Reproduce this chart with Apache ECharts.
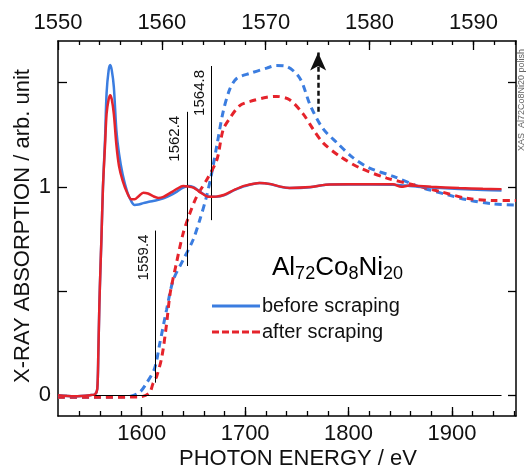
<!DOCTYPE html>
<html>
<head>
<meta charset="UTF-8">
<title>XAS Al72Co8Ni20</title>
<script src="https://cdn.jsdelivr.net/npm/echarts@6/dist/echarts.min.js"></script>
</head>
<body style="margin:0;background:#fff">
<div id="main" style="width:527px;height:469px;"></div>
<script>
var FONT = '"Liberation Sans", Arial, sans-serif';
var BLUE = '#3b7de0', RED = '#e5232b', INK = '#111';

// solid curves, bottom axis (eV)
var solidEnergy = [1519, 1535, 1550, 1555, 1557, 1558, 1559, 1560, 1561, 1562.5, 1564.5, 1566, 1568, 1569.5, 1571, 1573, 1575.5,
  1578, 1581.5, 1586, 1590, 1593, 1597, 1601.5, 1606, 1611, 1616, 1621, 1628, 1634, 1640, 1645, 1650, 1656, 1662, 1666,
  1672, 1680, 1690, 1700, 1714, 1725, 1734, 1743, 1763, 1778, 1800, 1843, 1851, 1859, 1880, 1907, 1930, 1948];
var solidBefore = [0, -0.005, 0, 0.005, 0.03, 0.2, 0.43, 0.6, 0.75, 1.0, 1.23, 1.45, 1.56, 1.585, 1.56, 1.48, 1.27,
  1.16, 1.06, 0.975, 0.93, 0.913, 0.915, 0.922, 0.927, 0.932, 0.938, 0.945, 0.96, 0.977, 0.996, 1.004, 0.998, 0.978, 0.958, 0.952,
  0.952, 0.96, 0.985, 1.004, 1.018, 1.012, 1.0, 0.994, 0.998, 1.01, 1.012, 1.01, 1.008, 1.004, 0.997, 0.99, 0.985, 0.982];
var solidAfter = [0, -0.005, 0, 0.005, 0.03, 0.2, 0.43, 0.6, 0.75, 1.0, 1.2, 1.35, 1.42, 1.44, 1.42, 1.35, 1.2,
  1.1, 1.03, 0.97, 0.94, 0.94, 0.955, 0.972, 0.968, 0.955, 0.947, 0.952, 0.972, 0.99, 1.004, 1.002, 0.996, 0.976, 0.957, 0.952,
  0.953, 0.962, 0.987, 1.006, 1.019, 1.013, 1.001, 0.995, 0.999, 1.01, 1.012, 1.012, 1.0, 1.006, 1.0, 0.994, 0.991, 0.989];

// dashed curves, top axis (eV)
var dashBeforeEnergy = [1550, 1554, 1557, 1557.9, 1558.5, 1559.3, 1559.8, 1560.45, 1561.1, 1562.05, 1563.0, 1563.65, 1564.3,
  1564.8, 1565.3, 1565.9, 1566.55, 1567.2, 1568.5, 1570.1, 1571.0, 1572.0, 1573.3, 1574.3, 1575.5, 1576.9, 1578.4, 1580.0,
  1582.3, 1584.8, 1587.5, 1589.4, 1591.9, 1594.1];
var dashBefore = [-0.01, -0.01, -0.005, 0.016, 0.056, 0.128, 0.248, 0.409, 0.553, 0.649, 0.745, 0.841, 0.953,
  1.066, 1.2, 1.36, 1.47, 1.52, 1.545, 1.57, 1.582, 1.578, 1.52, 1.39, 1.28, 1.21, 1.14, 1.09,
  1.05, 1.0, 0.962, 0.938, 0.918, 0.913];
var dashAfterEnergy = [1550, 1554, 1557.9, 1558.8, 1559.15, 1559.5, 1560.0, 1560.45, 1560.8, 1561.4, 1562.05, 1562.7, 1563.35,
  1564.45, 1565.3, 1565.9, 1566.55, 1567.5, 1568.5, 1570.1, 1571.05, 1572.3, 1573.6, 1574.6, 1575.55, 1577.15, 1579.1, 1581.65,
  1584.2, 1586.8, 1589.35, 1591.9, 1594.1];
var dashAfter = [-0.01, -0.01, -0.008, 0.011, 0.056, 0.09, 0.184, 0.34, 0.489, 0.633, 0.777, 0.873, 0.953,
  1.045, 1.13, 1.274, 1.33, 1.39, 1.41, 1.43, 1.434, 1.418, 1.35, 1.274, 1.21, 1.146, 1.09, 1.042,
  1.01, 0.977, 0.945, 0.934, 0.934];

var bottomLabels = [1600, 1700, 1800, 1900];
var topLabels = [1550, 1560, 1570, 1580, 1590];
var yTicks = [0, 0.5, 1, 1.5];
var yLabels = [0, 1];

// edge positions marked on the top scale
var edgeMarks = [
  {energy: 1559.4, from: 0.06, to: 0.79},
  {energy: 1562.4, from: 0.62, to: 1.36},
  {energy: 1564.8, from: 0.84, to: 1.58}
];
var arrowMark = {energy: 1575.05, from: 1.36, to: 1.645};
var baseline = {from: 1519, to: 1948};

function pairs(xs, ys) { return xs.map(function (x, i) { return [x, ys[i]]; }); }
function steps(a, b, s) { var r = []; for (var v = a; v <= b + 1e-9; v += s) r.push(+v.toFixed(3)); return r; }
function plain(v) { return String(v); }

function xAxis(pos, min, max, ticks, len, labels) {
  return {
    type: 'value', position: pos, min: min, max: max,
    splitLine: {show: false},
    axisLine: {show: !!labels, onZero: false, lineStyle: {color: '#000', width: 1.5}},
    axisTick: {show: true, inside: true, length: len, customValues: ticks, lineStyle: {color: '#000', width: 1.3}},
    axisLabel: labels ? {customValues: labels, formatter: plain, fontSize: 22, color: INK, fontFamily: FONT, margin: 7} : {show: false}
  };
}

// legend glyphs: a solid bar and a row of dashes
var solidIcon = 'path://M0,0h48v3h-48z';
var dashIcon = 'path://M0,0h7v3h-7zM10,0h7v3h-7zM20,0h7v3h-7zM30,0h7v3h-7zM40,0h8v3h-8z';

var myChart = echarts.init(document.getElementById('main'));

var option = {
  animation: false,
  backgroundColor: '#fff',
  grid: {left: 58, right: 11, top: 41, bottom: 53, containLabel: false, outerBoundsMode: 'none'},
  xAxis: [
    xAxis('bottom', 1519, 1962, bottomLabels, 9, bottomLabels),
    xAxis('bottom', 1519, 1962, steps(1540, 1960, 20), 5, null),
    xAxis('top', 1550, 1594.1, topLabels, 9, topLabels),
    xAxis('top', 1550, 1594.1, steps(1552, 1594, 2), 4, null)
  ],
  yAxis: [
    {type: 'value', position: 'left', min: -0.1, max: 1.7, splitLine: {show: false},
      axisLine: {show: true, onZero: false, lineStyle: {color: '#000', width: 1.5}},
      axisTick: {inside: true, length: 9, customValues: yTicks, lineStyle: {color: '#000', width: 1.3}},
      axisLabel: {customValues: yLabels, formatter: plain, fontSize: 22, color: INK, fontFamily: FONT, margin: 7}},
    {type: 'value', position: 'right', min: -0.1, max: 1.7, splitLine: {show: false},
      axisLine: {show: true, onZero: false, lineStyle: {color: '#000', width: 1.5}},
      axisTick: {inside: true, length: 8, customValues: yTicks, lineStyle: {color: '#000', width: 1.3}},
      axisLabel: {show: false}}
  ],
  legend: {
    data: [
      {name: 'before scraping', icon: solidIcon, itemStyle: {color: BLUE}},
      {name: 'after scraping', icon: dashIcon, itemStyle: {color: RED}}
    ],
    orient: 'vertical', left: 207, top: 291, itemWidth: 48, itemHeight: 3, itemGap: 6,
    selectedMode: false,
    textStyle: {fontSize: 20, color: INK, fontFamily: FONT, padding: [0, 0, 0, -3]}
  },
  series: [
    {
      name: 'before scraping (edge)', type: 'line', xAxisIndex: 2, yAxisIndex: 0,
      data: pairs(dashBeforeEnergy, dashBefore), symbol: 'none', smooth: 0.3, silent: true,
      lineStyle: {color: BLUE, width: 3, type: [7, 5]}, z: 2,
      markLine: {
        silent: true, symbol: 'none', animation: false,
        lineStyle: {color: '#000', width: 1, type: 'solid'},
        label: {show: true, position: 'insideEndTop', fontSize: 15, color: INK, fontFamily: FONT, distance: 4},
        data: edgeMarks.map(function (m) {
          return [{coord: [m.energy, m.from]}, {coord: [m.energy, m.to], label: {formatter: String(m.energy.toFixed(1))}}];
        }).concat([[
          {coord: [arrowMark.energy, arrowMark.from], symbol: 'none'},
          {coord: [arrowMark.energy, arrowMark.to], symbol: 'arrow', symbolSize: [12, 18],
            lineStyle: {color: '#111', width: 2.5, type: [5, 3]}, label: {show: false}}
        ]])
      }
    },
    {
      name: 'after scraping', type: 'line', xAxisIndex: 2, yAxisIndex: 0,
      data: pairs(dashAfterEnergy, dashAfter), symbol: 'none', smooth: 0.3, silent: true,
      lineStyle: {color: RED, width: 3, type: [7, 5]}, itemStyle: {color: RED}, z: 3
    },
    {
      name: 'before scraping', type: 'line', xAxisIndex: 0, yAxisIndex: 0,
      data: pairs(solidEnergy, solidBefore), symbol: 'none', smooth: 0.3, silent: true,
      lineStyle: {color: BLUE, width: 2.5}, itemStyle: {color: BLUE}, z: 4,
      markLine: {
        silent: true, symbol: 'none', animation: false, label: {show: false},
        lineStyle: {color: '#000', width: 1, type: 'solid'},
        data: [[{coord: [baseline.from, 0]}, {coord: [baseline.to, 0]}]]
      }
    },
    {
      name: 'after scraping (edge)', type: 'line', xAxisIndex: 0, yAxisIndex: 0,
      data: pairs(solidEnergy, solidAfter), symbol: 'none', smooth: 0.3, silent: true,
      lineStyle: {color: RED, width: 2.5}, z: 5
    }
  ],
  graphic: [
    {type: 'text', x: 298, y: 459, silent: true,
      style: {text: 'PHOTON ENERGY / eV', font: '22px ' + FONT, fill: INK, align: 'center', verticalAlign: 'middle'}},
    {type: 'text', x: 23, y: 226, rotation: Math.PI / 2, silent: true,
      style: {text: 'X-RAY ABSORPTION / arb. unit', font: '22px ' + FONT, fill: INK, align: 'center', verticalAlign: 'middle'}},
    {type: 'text', x: 272, y: 268, silent: true,
      style: {
        text: '{m|Al}{s|72}{m|Co}{s|8}{m|Ni}{s|20}', verticalAlign: 'middle',
        rich: {
          m: {fontSize: 26, fontFamily: FONT, color: INK, lineHeight: 30, verticalAlign: 'middle'},
          s: {fontSize: 18, fontFamily: FONT, color: INK, lineHeight: 16, verticalAlign: 'bottom'}
        }
      }},
    {type: 'text', x: 522, y: 100, rotation: Math.PI / 2, silent: true,
      style: {text: 'XAS  Al72Co8Ni20 polish', font: '9px ' + FONT, fill: '#666', align: 'center', verticalAlign: 'middle'}}
  ]
};
myChart.setOption(option);
</script>
</body>
</html>
